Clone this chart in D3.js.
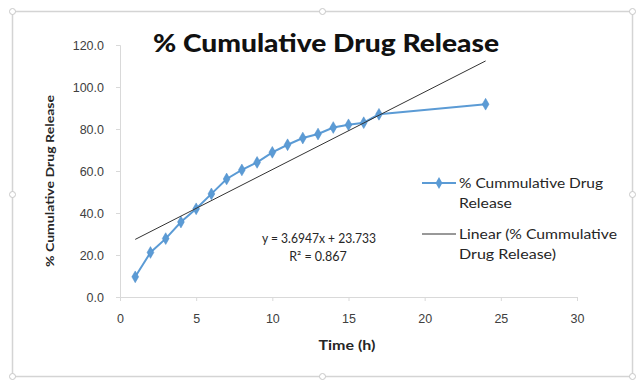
<!DOCTYPE html>
<html><head><meta charset="utf-8">
<script src="https://cdn.jsdelivr.net/npm/d3@7"></script>
<style>html,body{margin:0;padding:0;background:#fff;} svg{display:block;font-family:Lato,"Open Sans",sans-serif;}</style>
</head><body>
<svg id="c" width="644" height="382"></svg>
<script>
const timeH = [1,2,3,4,5,6,7,8,9,10,11,12,13,14,15,16,17,24];
const release = [9.6,21.2,27.8,35.7,42.0,49.1,56.2,60.5,64.1,68.9,72.5,75.7,77.6,80.7,82.0,83.0,87.0,91.8];
const trendSlope = 3.6947, trendIntercept = 23.733;
const xTicks = [0,5,10,15,20,25,30];
const yTicks = [0,20,40,60,80,100,120];
const title = "% Cumulative Drug Release";
const xTitle = "Time (h)";
const yTitle = "% Cumulative Drug Release";
const legendLabels = [["% Cummulative Drug","Release"],["Linear (% Cummulative","Drug Release)"]];
const eqLines = ["y = 3.6947x + 23.733","R² = 0.867"];

const svg = d3.select("#c");
// outer frame
svg.append("rect").attr("x",12.5).attr("y",11.5).attr("width",620).attr("height",365)
  .attr("fill","#fff").attr("stroke","#d4d4d4").attr("stroke-width",1.5);
[[12,11],[322,11],[632,11],[12,194],[632,194],[12,376],[322,376],[632,376]].forEach(p=>{
  svg.append("circle").attr("cx",p[0]+0.5).attr("cy",p[1]+0.5).attr("r",3).attr("fill","#fff").attr("stroke","#c8c8c8");
});

const x = d3.scaleLinear().domain([0,30]).range([120,577]);
const y = d3.scaleLinear().domain([0,120]).range([297,45]);

// y axis
const ya = svg.append("g").attr("transform","translate(120,0)").call(d3.axisLeft(y).tickValues(yTicks).tickFormat(d3.format(".1f")).tickSize(4).tickPadding(12));
ya.select(".domain").attr("stroke","#d9d9d9");
ya.selectAll(".tick line").attr("stroke","#d9d9d9");
ya.selectAll("text").attr("fill","#404040").attr("font-size",12.5);
// x axis
const xa = svg.append("g").attr("transform","translate(0,297)").call(d3.axisBottom(x).tickValues(xTicks).tickSize(4).tickPadding(13));
xa.select(".domain").attr("stroke","#d9d9d9");
xa.selectAll(".tick line").attr("stroke","#d9d9d9");
xa.selectAll("text").attr("fill","#404040").attr("font-size",12.5);

// series
const pts = timeH.map((t,i)=>[t,release[i]]);
svg.append("path").datum(pts).attr("fill","none").attr("stroke","#5b9bd5").attr("stroke-width",2)
  .attr("d",d3.line().x(d=>x(d[0])).y(d=>y(d[1])));
svg.append("g").selectAll("path").data(pts).join("path")
  .attr("transform",d=>`translate(${x(d[0])},${y(d[1])})`)
  .attr("d",d3.symbol(d3.symbolDiamond,40)).attr("fill","#5b9bd5").attr("stroke","#4a8ac8").attr("stroke-width",0.5);

// trendline
const tx = d3.extent(timeH);
svg.append("line").attr("x1",x(tx[0])).attr("y1",y(trendSlope*tx[0]+trendIntercept))
  .attr("x2",x(tx[1])).attr("y2",y(trendSlope*tx[1]+trendIntercept))
  .attr("stroke","#333").attr("stroke-width",1);

// title
svg.append("text").attr("x",326).attr("y",52).attr("text-anchor","middle").attr("font-size",24).attr("font-weight","900")
  .attr("fill","#111").attr("textLength",346).attr("lengthAdjust","spacingAndGlyphs").text(title);
// axis titles
svg.append("text").attr("x",347).attr("y",350).attr("text-anchor","middle").attr("font-size",13).attr("font-weight","bold").attr("fill","#262626")
  .attr("textLength",57).attr("lengthAdjust","spacingAndGlyphs").text(xTitle);
svg.append("text").attr("transform","translate(54,181) rotate(-90)").attr("text-anchor","middle").attr("font-size",12).attr("font-weight","bold").attr("fill","#262626")
  .attr("textLength",172).attr("lengthAdjust","spacingAndGlyphs").text(yTitle);

// equation
svg.append("text").attr("x",319).attr("y",243).attr("text-anchor","middle").attr("font-size",12.5).attr("fill","#262626")
  .attr("textLength",114).attr("lengthAdjust","spacingAndGlyphs").text(eqLines[0]);
svg.append("text").attr("x",318).attr("y",261).attr("text-anchor","middle").attr("font-size",12.5).attr("fill","#262626").text(eqLines[1]);

// legend
const lg = svg.append("g");
lg.append("line").attr("x1",422).attr("x2",456).attr("y1",183).attr("y2",183).attr("stroke","#5b9bd5").attr("stroke-width",2);
lg.append("path").attr("transform","translate(439,183)").attr("d",d3.symbol(d3.symbolDiamond,40)).attr("fill","#5b9bd5");
lg.append("line").attr("x1",422).attr("x2",456).attr("y1",234).attr("y2",234).attr("stroke","#333").attr("stroke-width",1);
const legW = [[144,53],[158,97]];
legendLabels.forEach((ls,i)=>{
  ls.forEach((s,j)=>{
    lg.append("text").attr("x",459).attr("y",(i?239:188)+j*20).attr("font-size",13).attr("fill","#262626")
      .attr("textLength",legW[i][j]).attr("lengthAdjust","spacingAndGlyphs").text(s);
  });
});
</script>
</body></html>
